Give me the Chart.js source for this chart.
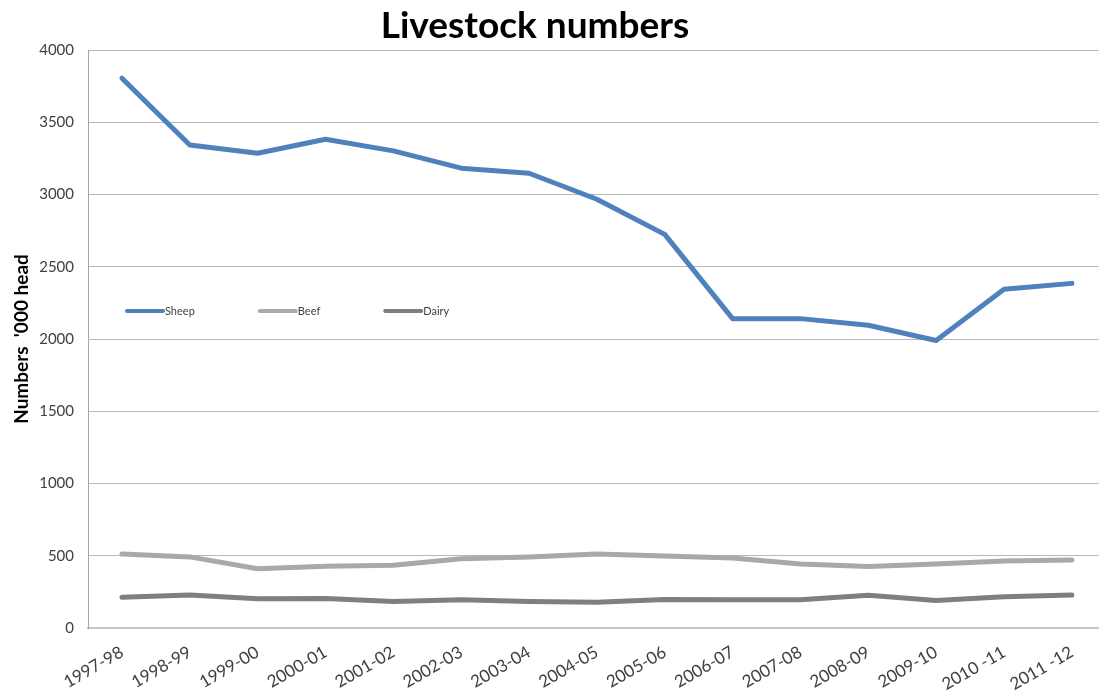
<!DOCTYPE html>
<html>
<head>
<meta charset="utf-8">
<title>Livestock numbers</title>
<script src="https://cdn.jsdelivr.net/npm/chart.js@4/dist/chart.umd.min.js"></script>
<style>
    html, body { margin: 0; padding: 0; background: #fff; }
    #wrap { width: 1099px; height: 698px; }
</style>
</head>
<body>
<div id="wrap"><canvas id="livestock"></canvas></div>
<script>
// Data ('000 head)
const years = ['1997-98', '1998-99', '1999-00', '2000-01', '2001-02', '2002-03', '2003-04', '2004-05',
    '2005-06', '2006-07', '2007-08', '2008-09', '2009-10', '2010 -11', '2011 -12'];
const sheep = [3805, 3342, 3285, 3382, 3302, 3182, 3147, 2967, 2724, 2141, 2141, 2095, 1990, 2345, 2385];
const beef = [512, 492, 410, 428, 434, 480, 492, 512, 498, 484, 443, 426, 443, 464, 470];
const dairy = [212, 228, 202, 205, 184, 195, 184, 178, 198, 195, 195, 226, 190, 216, 228];
const yTicks = [0, 500, 1000, 1500, 2000, 2500, 3000, 3500, 4000];
const chartTitle = 'Livestock numbers';

const fontFamily = 'Lato, "Open Sans", "Liberation Sans", sans-serif';
const textColor = '#404040';

const toPoints = (arr) => arr.map((v, i) => ({ x: i, y: v }));

// Title is a bit left of the canvas centre in the original, so draw it by hand
const titleText = {
    id: 'titleText',
    afterDraw(chart) {
        const ctx = chart.ctx;
        ctx.save();
        ctx.font = 'bold 37px ' + fontFamily;
        ctx.fillStyle = '#000';
        ctx.textAlign = 'center';
        ctx.textBaseline = 'middle';
        ctx.fillText(chartTitle, 535, 26);
        ctx.restore();
    }
};

// Legend sits inside the plot area, the way the spreadsheet drew it
const insideLegend = {
    id: 'insideLegend',
    afterDatasetsDraw(chart) {
        const ctx = chart.ctx;
        const area = chart.chartArea;
        let x = area.left + 39;
        const y = 311;
        ctx.save();
        ctx.font = '11px ' + fontFamily;
        ctx.textBaseline = 'middle';
        ctx.textAlign = 'left';
        chart.data.datasets.forEach((ds) => {
            ctx.strokeStyle = ds.borderColor;
            ctx.lineWidth = 4;
            ctx.lineCap = 'round';
            ctx.beginPath();
            ctx.moveTo(x, y);
            ctx.lineTo(x + 36, y);
            ctx.stroke();
            ctx.fillStyle = textColor;
            ctx.fillText(ds.label, x + 38, y);
            x += 38 + ctx.measureText(ds.label).width + 65;
        });
        ctx.restore();
    }
};

new Chart(document.getElementById('livestock'), {
    type: 'line',
    data: {
        datasets: [{
            label: 'Sheep',
            data: toPoints(sheep),
            borderColor: '#4F81BD'
        }, {
            label: 'Beef',
            data: toPoints(beef),
            borderColor: '#A9A9A9'
        }, {
            label: 'Dairy',
            data: toPoints(dairy),
            borderColor: '#7F7F7F'
        }]
    },
    options: {
        responsive: true,
        maintainAspectRatio: false,
        animation: false,
        layout: { padding: { top: 50 } },
        elements: {
            line: { borderWidth: 5, tension: 0, borderCapStyle: 'round', borderJoinStyle: 'round' },
            point: { radius: 0, hoverRadius: 0 }
        },
        plugins: {
            legend: { display: false },
            tooltip: { enabled: false },
            title: { display: false }
        },
        scales: {
            x: {
                type: 'linear',
                min: -0.5,
                max: 14.4,
                afterBuildTicks: (scale) => {
                    scale.ticks = years.map((_, i) => ({ value: i }));
                },
                afterFit: (scale) => { scale.height = 70; },
                grid: { display: false },
                border: { display: true, color: '#C6C6C6', width: 2 },
                ticks: {
                    autoSkip: false,
                    minRotation: 30,
                    maxRotation: 30,
                    padding: 6,
                    color: textColor,
                    font: { family: fontFamily, size: 17 },
                    callback: (value) => years[value]
                }
            },
            y: {
                min: 0,
                max: 4000,
                afterBuildTicks: (scale) => {
                    scale.ticks = yTicks.map((v) => ({ value: v }));
                },
                afterFit: (scale) => { scale.width = 88; },
                grid: { color: '#B8B8B8', lineWidth: 1, drawTicks: false },
                border: { display: true, color: '#A6A6A6', width: 1 },
                ticks: {
                    padding: 14,
                    color: textColor,
                    font: { family: fontFamily, size: 15 },
                    callback: (value) => String(value)
                },
                title: {
                    display: true,
                    text: "Numbers  '000 head",
                    color: '#000',
                    font: { family: fontFamily, size: 19, weight: 'bold' },
                    padding: { top: 10, bottom: 0 }
                }
            }
        }
    },
    plugins: [titleText, insideLegend]
});
</script>
</body>
</html>
